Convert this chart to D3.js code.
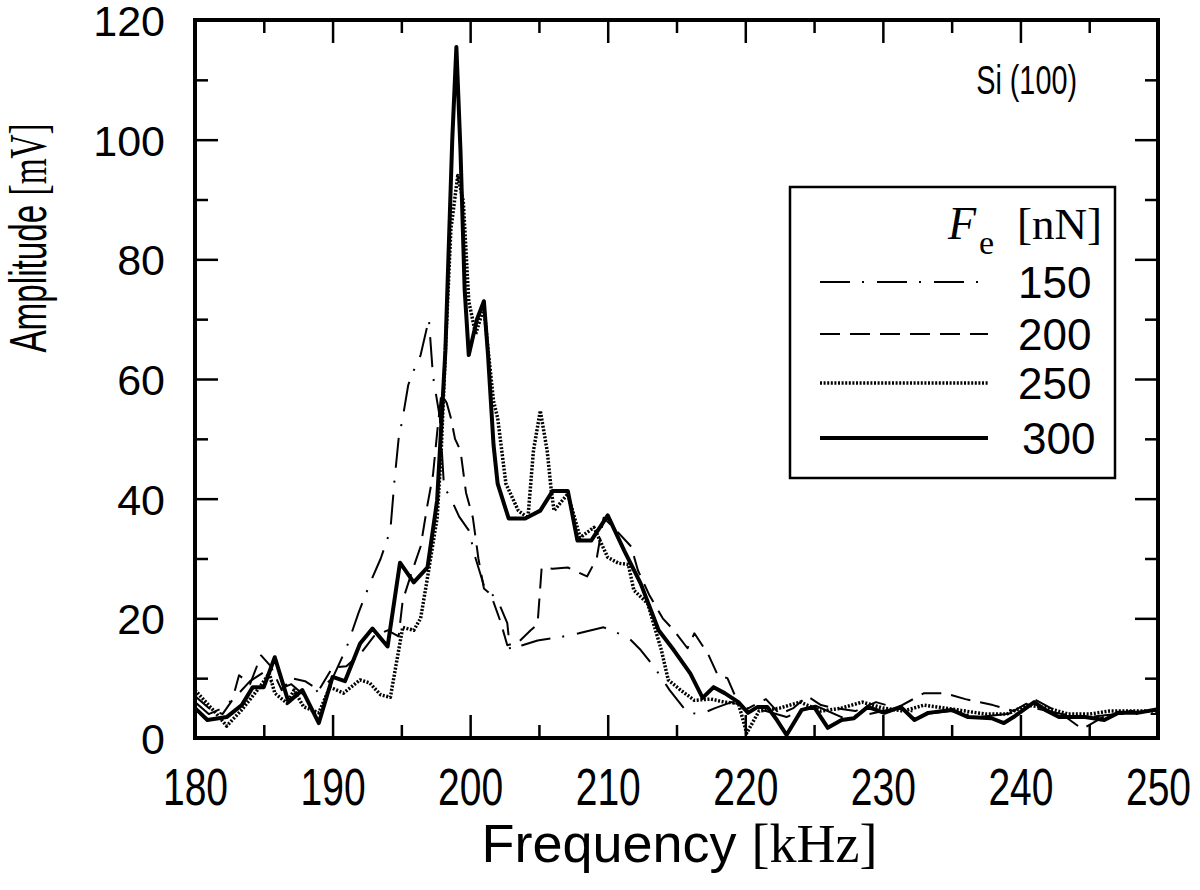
<!DOCTYPE html>
<html>
<head>
<meta charset="utf-8">
<script src="https://cdn.jsdelivr.net/npm/d3@7"></script>
<style>
  body { margin: 0; background: #fff; }
  svg { display: block; }
  .axis path.domain { display: none; }
  .axis line { stroke: #000; stroke-width: 2.5px; }
  .axis text { font-family: "Liberation Sans", Arial, sans-serif; fill: #000; }
</style>
</head>
<body>
<svg id="chart" width="1200" height="890"></svg>
<script>
// F_e = 150 nN (dash-dot)
var freq150 = [180, 181, 182, 183, 184, 185, 186, 187, 188, 189, 190, 191, 191.9, 192.8, 193.5, 194.2, 194.5, 194.8, 195.1, 195.5, 196.0, 196.4, 196.8, 197.0, 197.3, 197.8, 198.1, 198.6, 199.2, 199.9, 200.4, 201.0, 202.0, 202.7, 202.9, 203.8, 204.9, 206.4, 207.9, 209.7, 211.5, 212.4, 213.4, 214.5, 215.8, 216.8, 217.8, 219, 220, 221.5, 223, 225, 227, 229, 231, 233, 235, 237, 239, 241, 243, 245, 247, 250];
var amp150 = [6, 4, 5, 7, 9.5, 11, 8, 9, 7, 8, 10, 15, 21, 26.3, 30, 34.7, 43, 50, 53.5, 59, 62, 64, 68, 70, 60.5, 53.5, 42, 40, 37, 34.7, 30, 25.5, 23, 19.2, 14.7, 15.5, 16.3, 16.8, 17.5, 18.5, 16.8, 14.7, 11.8, 8, 4.2, 4, 5, 6, 5, 4.5, 3.5, 5.5, 3.5, 4, 5, 4, 4.5, 3.5, 4, 5, 4, 3.5, 4, 4];

// F_e = 200 nN (dashed)
var freq200 = [180, 181, 182, 182.7, 183.2, 184, 184.8, 185.5, 186.3, 187, 188, 189, 190, 191, 192, 193, 194, 194.8, 195.1, 195.8, 196.4, 196.9, 197.3, 197.6, 197.9, 198.3, 198.6, 198.9, 199.3, 199.7, 200.2, 200.6, 201.0, 201.5, 202.2, 202.7, 203.5, 204.4, 204.9, 205.2, 206, 207.1, 208.5, 209.2, 209.7, 210.5, 211.7, 212.2, 213, 214, 214.8, 215.8, 216.3, 217.3, 218, 218.7, 219.5, 220, 221.5, 222.5, 223.5, 224.5, 225.5, 226.5, 228, 229.5, 231, 233, 234.5, 236, 238, 239.5, 241, 243, 244.5, 246, 248, 250];
var amp200 = [7, 5, 4, 6.3, 10.5, 9, 13.8, 12, 8, 10, 9.5, 8, 11.8, 12, 14, 17, 18, 17, 23, 28, 32, 39, 44, 51, 57.5, 56, 53.5, 50, 48, 41, 36.8, 30, 25, 24, 19.5, 15.5, 16, 18, 19, 28.5, 28.3, 28.5, 27, 30, 36.8, 35, 32, 28, 24, 20, 18, 15, 17.5, 14, 10.5, 10, 5.8, 4.7, 6.5, 4, 5, 7, 5.5, 5, 4.5, 6, 5, 7.5, 7.5, 6.5, 5.5, 4.5, 6.5, 4, 1.5, 3.5, 4.5, 4.5];

// F_e = 250 nN (dotted)
var freq250 = [180, 181.5, 182.3, 183.4, 184.7, 185.4, 185.8, 186.7, 187.2, 187.9, 189, 189.8, 190.8, 192, 192.7, 193.5, 194.2, 195.1, 195.9, 196.4, 196.9, 197.6, 197.9, 198.2, 198.6, 199.1, 199.5, 199.9, 200.4, 201.0, 201.3, 201.7, 202.0, 202.6, 203.5, 204.2, 204.6, 205.1, 205.6, 205.9, 206.1, 207.1, 208.0, 209.0, 210.0, 210.8, 211.5, 211.9, 212.9, 213.9, 214.4, 215.3, 216.3, 217.5, 218.5, 219.5, 220.1, 221, 222.5, 224, 225.5, 227, 228.5, 230, 231.5, 233, 234.5, 236, 237.5, 239, 240.5, 242, 243.5, 245, 246.5, 248, 250];
var amp250 = [8, 4.2, 2, 4.7, 8.5, 10.8, 7.5, 5.8, 8, 5.2, 4.2, 8.5, 7.5, 9.7, 9.2, 7.2, 6.8, 18.5, 18, 20, 26.8, 36.8, 48, 64.7, 85, 94, 89.7, 73, 67.5, 72, 65, 56.3, 53.5, 42.5, 38, 36.8, 48, 54.7, 48, 41.3, 38, 40.8, 33.5, 35.2, 30.2, 29.2, 29, 24.7, 22.5, 14.7, 9.7, 8, 6.3, 6.5, 6, 5.8, 0.8, 4.5, 5, 6, 4.5, 5, 6, 5, 4.5, 5.5, 5, 4.5, 4, 4, 5.5, 5, 4, 4, 4.5, 4.5, 4.5];

// F_e = 300 nN (solid)
var freq300 = [180, 180.9, 182.3, 183.4, 184.2, 185, 185.8, 186.8, 187.8, 189, 190, 190.9, 192, 192.9, 194, 194.9, 195.9, 196.9, 197.6, 198.2, 198.7, 199.0, 199.3, 199.6, 199.9, 200.5, 201.0, 201.3, 201.7, 202.0, 202.8, 204.0, 205.1, 206.0, 207.1, 207.8, 208.8, 210.0, 211.2, 212.4, 213.7, 214.8, 216.0, 216.9, 217.7, 218.5, 219.5, 220.2, 220.9, 221.6, 222.3, 223.0, 224.1, 225.0, 226.0, 227.0, 227.9, 228.9, 230.1, 231.3, 232.3, 233.3, 235.0, 236.2, 237.9, 238.8, 239.5, 241.0, 241.8, 242.8, 244.7, 246.1, 247.1, 248.5, 250];
var amp300 = [5, 3, 3.5, 5.5, 8.5, 8.5, 13.5, 6, 8, 2.5, 10.2, 9.5, 15.8, 18.3, 15.3, 29.3, 26, 28.5, 39.7, 64.7, 100, 115.5, 98, 75, 64, 70, 73, 64, 49, 42.5, 36.7, 36.7, 38, 41.3, 41.3, 33, 33, 37.2, 31.3, 25.8, 18, 14.7, 10.8, 6.7, 8.5, 7.5, 6, 4.2, 5.2, 5.2, 3, 0.5, 4.7, 5.2, 1.7, 3, 3.3, 5.2, 4.2, 5.2, 3, 4.2, 4.7, 3.5, 3.3, 2.5, 3.5, 6, 4.7, 3.5, 3.5, 3, 4.2, 4.2, 4.8];

var seriesLabels = ["150", "200", "250", "300"];
var xTicks = [180, 190, 200, 210, 220, 230, 240, 250];
var yTicks = [0, 20, 40, 60, 80, 100, 120];

var svg = d3.select("#chart");
var plotLeft = 195, plotRight = 1158, plotTop = 20, plotBottom = 738;

var x = d3.scaleLinear().domain([180, 250]).range([plotLeft, plotRight]);
var y = d3.scaleLinear().domain([0, 120]).range([plotBottom, plotTop]);

var styles = [
  {dash: "30,12,2,13", width: 2},
  {dash: "20,10", width: 2},
  {dash: "2,1.6", width: 3.5},
  {dash: null, width: 4}
];

var series = [
  d3.zip(freq150, amp150),
  d3.zip(freq200, amp200),
  d3.zip(freq250, amp250),
  d3.zip(freq300, amp300)
];

svg.append("clipPath").attr("id", "plotclip")
  .append("rect").attr("x", plotLeft).attr("y", plotTop)
  .attr("width", plotRight - plotLeft).attr("height", plotBottom - plotTop);

var line = d3.line()
  .x(function(d) { return x(d[0]); })
  .y(function(d) { return y(d[1]); });

svg.append("g").attr("clip-path", "url(#plotclip)")
  .selectAll("path").data(series)
  .enter().append("path")
  .attr("d", line)
  .attr("fill", "none")
  .attr("stroke", "#000")
  .attr("stroke-linejoin", "round")
  .attr("stroke-width", function(d, i) { return styles[i].width; })
  .attr("stroke-dasharray", function(d, i) { return styles[i].dash; });

// ticks, all pointing inward, on all four sides
var xMinor = d3.range(185, 250, 10);
var yMinor = d3.range(10, 120, 20);

svg.append("g").attr("class", "axis").attr("transform", "translate(0," + plotBottom + ")")
  .call(d3.axisBottom(x).tickValues(xTicks).tickSize(-23).tickPadding(30))
  .selectAll("text").attr("font-size", 52)
  .attr("transform", "scale(0.75,1)");
svg.append("g").attr("class", "axis").attr("transform", "translate(0," + plotBottom + ")")
  .call(d3.axisBottom(x).tickValues(xMinor).tickSize(-13).tickFormat(""));
svg.append("g").attr("class", "axis").attr("transform", "translate(0," + plotTop + ")")
  .call(d3.axisTop(x).tickValues(xTicks).tickSize(-23).tickFormat(""));
svg.append("g").attr("class", "axis").attr("transform", "translate(0," + plotTop + ")")
  .call(d3.axisTop(x).tickValues(xMinor).tickSize(-13).tickFormat(""));

svg.append("g").attr("class", "axis").attr("transform", "translate(" + plotLeft + ",0)")
  .call(d3.axisLeft(y).tickValues(yTicks).tickSize(-23).tickPadding(30))
  .selectAll("text").attr("font-size", 43).attr("dy", "0.36em");
svg.append("g").attr("class", "axis").attr("transform", "translate(" + plotLeft + ",0)")
  .call(d3.axisLeft(y).tickValues(yMinor).tickSize(-13).tickFormat(""));
svg.append("g").attr("class", "axis").attr("transform", "translate(" + plotRight + ",0)")
  .call(d3.axisRight(y).tickValues(yTicks).tickSize(-23).tickFormat(""));
svg.append("g").attr("class", "axis").attr("transform", "translate(" + plotRight + ",0)")
  .call(d3.axisRight(y).tickValues(yMinor).tickSize(-13).tickFormat(""));

svg.append("rect")
  .attr("x", plotLeft).attr("y", plotTop)
  .attr("width", plotRight - plotLeft).attr("height", plotBottom - plotTop)
  .attr("fill", "none").attr("stroke", "#000").attr("stroke-width", 4);

// axis titles
var xt = svg.append("text")
  .attr("x", (plotLeft + plotRight) / 2 + 3).attr("y", 862)
  .attr("text-anchor", "middle").attr("font-size", 54)
  .attr("font-family", "Liberation Sans, Arial, sans-serif");
xt.append("tspan").text("Frequency ");
xt.append("tspan").attr("font-family", "Liberation Serif, Times New Roman, serif").text("[kHz]");

var yt = svg.append("text")
  .attr("transform", "translate(46,238) rotate(-90) scale(0.64,1)")
  .attr("text-anchor", "middle").attr("font-size", 52)
  .attr("font-family", "Liberation Sans, Arial, sans-serif");
yt.append("tspan").text("Amplitude ");
yt.append("tspan").attr("font-family", "Liberation Serif, Times New Roman, serif").text("[mV]");

svg.append("text")
  .attr("transform", "translate(1077,94) scale(0.72,1)")
  .attr("text-anchor", "end")
  .attr("font-size", 40).attr("font-family", "Liberation Sans, Arial, sans-serif")
  .text("Si (100)");

// legend
var lg = svg.append("g");
lg.append("rect").attr("x", 790).attr("y", 187).attr("width", 325).attr("height", 291)
  .attr("fill", "#fff").attr("stroke", "#000").attr("stroke-width", 2.5);

lg.append("text").attr("x", 948).attr("y", 239)
  .attr("font-family", "Liberation Serif, Times New Roman, serif")
  .attr("font-size", 46).attr("font-style", "italic").text("F");
lg.append("text").attr("x", 979).attr("y", 254)
  .attr("font-family", "Liberation Serif, Times New Roman, serif")
  .attr("font-size", 34).text("e");
lg.append("text").attr("x", 1017).attr("y", 239)
  .attr("font-family", "Liberation Serif, Times New Roman, serif")
  .attr("font-size", 45).text("[nN]");

var rowY = [282, 334, 383, 438];
var rows = lg.selectAll("g.row").data(seriesLabels).enter().append("g").attr("class", "row");
rows.append("line")
  .attr("x1", 820).attr("x2", 988)
  .attr("y1", function(d, i) { return rowY[i]; })
  .attr("y2", function(d, i) { return rowY[i]; })
  .attr("stroke", "#000")
  .attr("stroke-width", function(d, i) { return styles[i].width; })
  .attr("stroke-dasharray", function(d, i) { return styles[i].dash; });
rows.append("text")
  .attr("x", function(d, i) { return i == 3 ? 1022 : 1018; })
  .attr("y", function(d, i) { return rowY[i]; })
  .attr("dy", "0.36em")
  .attr("font-size", 44).attr("font-family", "Liberation Sans, Arial, sans-serif")
  .text(function(d) { return d; });
</script>
</body>
</html>
